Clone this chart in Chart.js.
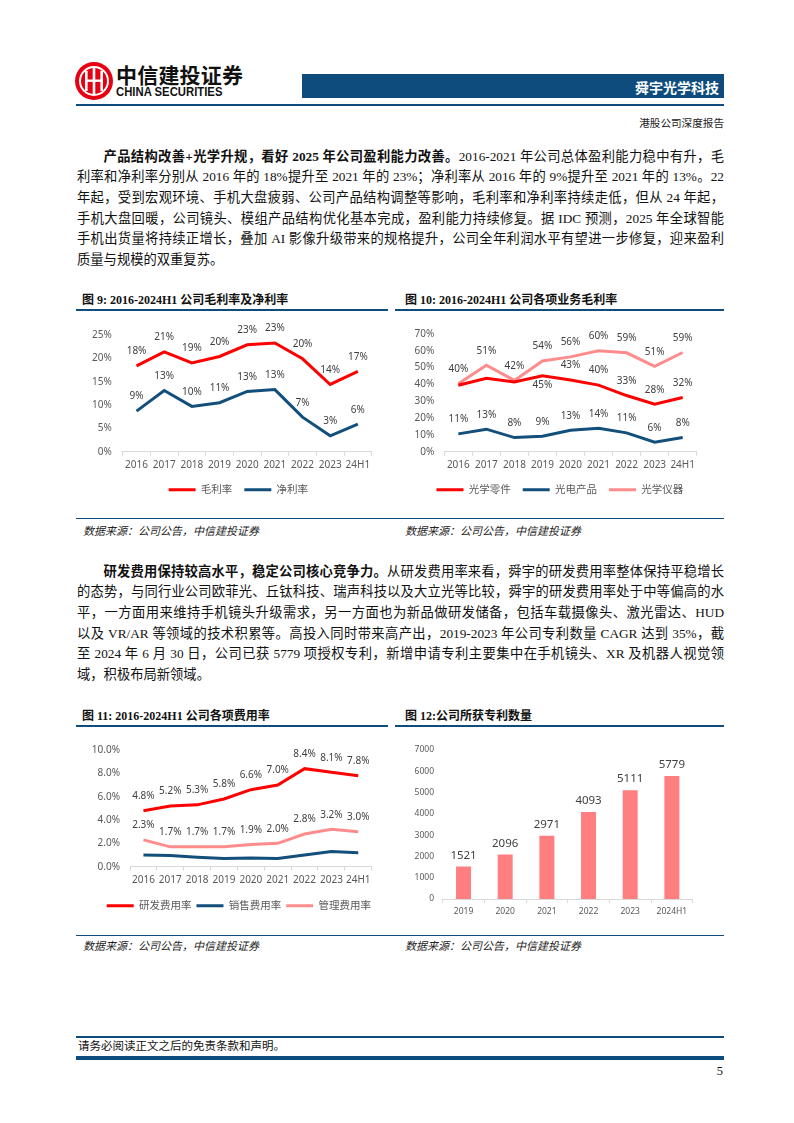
<!DOCTYPE html>
<html lang="zh-CN">
<head>
<meta charset="utf-8">
<script src="https://cdn.jsdelivr.net/npm/chart.js@4.4.1/dist/chart.umd.min.js"></script>
<style>
  body { margin: 0; background: #fff; }
  #page { position: relative; width: 794px; height: 1123px; overflow: hidden;
    font-family: "Liberation Serif", "Noto Sans CJK SC", serif; color: #111; }
  .abs { position: absolute; }
  .rule { position: absolute; background: #0d4c7c; }
  .para { position: absolute; left: 77px; width: 647px; font-size: 13.3px; line-height: 20.7px; }
  .ln { white-space: nowrap; text-align: justify; text-align-last: justify; }
  .ln.end { text-align-last: left; }
  .ln.first { text-indent: 2em; }
  .para b { font-weight: bold; }
  .title { font-size: 12px; line-height: 16px; font-weight: bold; white-space: nowrap; }
  .source { font-size: 11px; line-height: 16px; font-style: italic; white-space: nowrap; color: #222; }
  canvas { position: absolute; }
</style>
</head>
<body>
<div id="page">
  <!-- header -->
  <svg class="abs" style="left:72px; top:60px;" width="44" height="44" viewBox="0 0 44 44">
    <circle cx="22" cy="21" r="19" fill="#e60012"/>
    <circle cx="22" cy="21" r="14" fill="none" stroke="#fff" stroke-width="2"/>
    <rect x="13" y="11" width="2.6" height="20" fill="#fff"/>
    <rect x="20.7" y="8" width="2.6" height="26" fill="#fff"/>
    <rect x="28.4" y="11" width="2.6" height="20" fill="#fff"/>
    <rect x="13" y="19.5" width="18" height="2.4" fill="#fff"/>
  </svg>
  <div class="abs" style="left:116px; top:61px; font: bold 21px 'Noto Sans CJK SC'; line-height:26px; color:#111; letter-spacing:0.2px;">中信建投证券</div>
  <div class="abs" style="left:116px; top:85px; font: bold 12.3px 'Liberation Sans', sans-serif; line-height:14px; color:#111; transform: scaleX(0.92); transform-origin: left;">CHINA SECURITIES</div>
  <div class="abs" style="left:302px; top:74px; width:422px; height:24px; background:#0d4c7c;"></div>
  <div class="abs" style="left:560px; top:78px; width:159px; text-align:right; font: bold 14px 'Noto Sans CJK SC'; line-height:18px; color:#fff;">舜宇光学科技</div>
  <div class="rule" style="left:76px; top:104px; width:648px; height:1.5px;"></div>
  <div class="abs" style="left:560px; top:116px; width:164px; text-align:right; font-size:10.6px; line-height:16px; color:#222;">港股公司深度报告</div>

  <!-- paragraph 1 -->
  <div class="para" style="top:146.6px;">
    <div class="ln first"><b>产品结构改善+光学升规，看好 2025 年公司盈利能力改善。</b>2016-2021 年公司总体盈利能力稳中有升，毛</div>
    <div class="ln">利率和净利率分别从 2016 年的 18%提升至 2021 年的 23%；净利率从 2016 年的 9%提升至 2021 年的 13%。22</div>
    <div class="ln">年起，受到宏观环境、手机大盘疲弱、公司产品结构调整等影响，毛利率和净利率持续走低，但从 24 年起，</div>
    <div class="ln">手机大盘回暖，公司镜头、模组产品结构优化基本完成，盈利能力持续修复。据 IDC 预测，2025 年全球智能</div>
    <div class="ln">手机出货量将持续正增长，叠加 AI 影像升级带来的规格提升，公司全年利润水平有望进一步修复，迎来盈利</div>
    <div class="ln end">质量与规模的双重复苏。</div>
  </div>

  <!-- figure 9 / 10 titles -->
  <div class="abs title" style="left:82px; top:292px;">图 9: 2016-2024H1 公司毛利率及净利率</div>
  <div class="rule" style="left:76px; top:309px; width:312px; height:2px;"></div>
  <div class="abs title" style="left:405px; top:292px;">图 10: 2016-2024H1 公司各项业务毛利率</div>
  <div class="rule" style="left:395px; top:309px; width:329px; height:2px;"></div>

  <canvas id="chart9" width="310" height="187" style="left:76px; top:318px;"></canvas>
  <canvas id="chart10" width="330" height="187" style="left:395px; top:318px;"></canvas>

  <div class="rule" style="left:76px; top:518px; width:648px; height:1px;"></div>
  <div class="abs source" style="left:83px; top:523px;">数据来源：公司公告，中信建投证券</div>
  <div class="abs source" style="left:405px; top:523px;">数据来源：公司公告，中信建投证券</div>

  <!-- paragraph 2 -->
  <div class="para" style="top:561.6px;">
    <div class="ln first"><b>研发费用保持较高水平，稳定公司核心竞争力。</b>从研发费用率来看，舜宇的研发费用率整体保持平稳增长</div>
    <div class="ln">的态势，与同行业公司欧菲光、丘钛科技、瑞声科技以及大立光等比较，舜宇的研发费用率处于中等偏高的水</div>
    <div class="ln">平，一方面用来维持手机镜头升级需求，另一方面也为新品做研发储备，包括车载摄像头、激光雷达、HUD</div>
    <div class="ln">以及 VR/AR 等领域的技术积累等。高投入同时带来高产出，2019-2023 年公司专利数量 CAGR 达到 35%，截</div>
    <div class="ln">至 2024 年 6 月 30 日，公司已获 5779 项授权专利，新增申请专利主要集中在手机镜头、XR 及机器人视觉领</div>
    <div class="ln end">域，积极布局新领域。</div>
  </div>

  <!-- figure 11 / 12 titles -->
  <div class="abs title" style="left:82px; top:708px;">图 11: 2016-2024H1 公司各项费用率</div>
  <div class="rule" style="left:76px; top:725px; width:312px; height:2px;"></div>
  <div class="abs title" style="left:405px; top:708px;">图 12:公司所获专利数量</div>
  <div class="rule" style="left:395px; top:725px; width:329px; height:2px;"></div>

  <canvas id="chart11" width="310" height="187" style="left:76px; top:734px;"></canvas>
  <canvas id="chart12" width="330" height="182" style="left:395px; top:734px;"></canvas>

  <div class="rule" style="left:76px; top:935px; width:648px; height:1px;"></div>
  <div class="abs source" style="left:83px; top:938px;">数据来源：公司公告，中信建投证券</div>
  <div class="abs source" style="left:405px; top:938px;">数据来源：公司公告，中信建投证券</div>

  <!-- footer -->
  <div class="rule" style="left:76px; top:1036px; width:648px; height:1.5px;"></div>
  <div class="abs" style="left:78px; top:1038px; font-size:11.5px; line-height:16px; color:#111;">请务必阅读正文之后的免责条款和声明。</div>
  <div class="rule" style="left:76px; top:1056px; width:648px; height:3.5px;"></div>
  <div class="abs" style="left:700px; top:1063px; width:23px; text-align:right; font-size:12.5px; line-height:16px; color:#111;">5</div>
</div>

<script>
const years = ['2016', '2017', '2018', '2019', '2020', '2021', '2022', '2023', '24H1'];

// 图9 毛利率 / 净利率 (%)
const grossMargin = [18.4, 21.4, 19.0, 20.4, 22.9, 23.3, 19.9, 14.4, 17.2];
const netMargin = [8.7, 13.1, 9.7, 10.5, 12.9, 13.3, 7.4, 3.4, 5.9];

// 图10 各项业务毛利率 (%)
const opticalComponents = [39.5, 43.7, 41.4, 45.1, 42.7, 39.6, 33.4, 28.2, 32.2];
const optoelectronics = [10.6, 13.4, 8.4, 9.2, 12.8, 14.0, 11.2, 5.6, 8.4];
const opticalInstruments = [40.4, 51.4, 42.4, 54.0, 56.4, 60.0, 58.8, 50.8, 59.0];

// 图11 各项费用率 (%)
const rdRate = [4.8, 5.2, 5.3, 5.8, 6.6, 7.0, 8.4, 8.1, 7.8];
const sellingRate = [1.0, 0.95, 0.8, 0.7, 0.75, 0.7, 1.0, 1.3, 1.2];
const adminRate = [2.3, 1.7, 1.7, 1.7, 1.9, 2.0, 2.8, 3.2, 3.0];

// 图12 专利数量
const patentYears = ['2019', '2020', '2021', '2022', '2023', '2024H1'];
const patentCounts = [1521, 2096, 2971, 4093, 5111, 5779];

// where each value label sits: 'a' above the point, 'b' below, '' hidden
const allAbove = ['a', 'a', 'a', 'a', 'a', 'a', 'a', 'a', 'a'];
const componentsLabelPos = ['', '', '', 'b', 'a', 'a', 'a', 'a', 'a'];
const noLabels = ['', '', '', '', '', '', '', '', ''];

const RED = '#ff0000';
const BLUE = '#124f7b';
const PINK = '#ff8c8c';
const BAR = '#ff7f80';
const TICK = '#595959';
const AXIS = '#d9d9d9';
const FONT = '"Noto Sans", "Noto Sans CJK SC", sans-serif';

Chart.defaults.font.family = FONT;
Chart.defaults.color = TICK;

// draws the numbers over the points / bars
const valueLabels = {
  id: 'valueLabels',
  afterDatasetsDraw(chart, args, opts) {
    const ctx = chart.ctx;
    chart.data.datasets.forEach((ds, i) => {
      const meta = chart.getDatasetMeta(i);
      meta.data.forEach((el, j) => {
        const pos = ds.labelPos ? ds.labelPos[j] : 'a';
        if (!pos) return;
        const text = ds.data[j].toFixed(opts.decimals) + opts.suffix;
        ctx.save();
        ctx.font = opts.size + 'px ' + FONT;
        ctx.fillStyle = '#404040';
        ctx.textAlign = 'center';
        ctx.textBaseline = 'middle';
        ctx.fillText(text, el.x, pos === 'b' ? el.y + opts.below : el.y - opts.above);
        ctx.restore();
      });
    });
  }
};

// the legend in the source is not centred on the canvas, nudge it sideways
const legendShift = {
  id: 'legendShift',
  afterLayout(chart, args, opts) {
    if (chart.legend && opts.dx) {
      chart.legend.left += opts.dx;
      chart.legend.right += opts.dx;
    }
  }
};
Chart.register(valueLabels, legendShift);

function lineSet(label, data, color, labelPos) {
  return {
    label: label,
    data: data,
    borderColor: color,
    backgroundColor: color,
    borderWidth: 3,
    pointRadius: 0,
    tension: 0,
    labelPos: labelPos,
  };
}

function lineOptions(cfg) {
  return {
    responsive: false,
    animation: false,
    devicePixelRatio: 1,
    layout: { padding: { top: 16, right: cfg.padRight, left: 0, bottom: 0 } },
    plugins: {
      tooltip: { enabled: false },
      legend: {
        position: 'bottom',
        labels: {
          usePointStyle: true,
          pointStyle: 'line',
          pointStyleWidth: 27,
          padding: cfg.legendPad,
          color: TICK,
          font: { size: cfg.legendSize },
        },
      },
      legendShift: { dx: cfg.legendDx },
      valueLabels: { decimals: cfg.decimals, suffix: '%', size: 10, above: 14.5, below: 9 },
    },
    scales: {
      x: {
        offset: true,
        grid: { display: true, drawOnChartArea: false, drawTicks: true, tickLength: 4, offset: true, color: AXIS },
        border: { display: true, color: AXIS },
        ticks: { color: TICK, font: { size: 10 }, padding: 3, maxRotation: 0, autoSkip: false },
        afterFit: (scale) => { scale.height = cfg.xHeight; },
      },
      y: {
        min: cfg.min,
        max: cfg.max,
        ticks: {
          stepSize: cfg.step,
          color: TICK,
          font: { size: 10 },
          padding: cfg.yPad,
          callback: (v) => v.toFixed(cfg.decimals) + '%',
        },
        grid: { display: false, drawTicks: false },
        border: { display: false },
        afterFit: (scale) => { scale.width = cfg.yWidth; },
      },
    },
  };
}

new Chart(document.getElementById('chart9'), {
  type: 'line',
  data: {
    labels: years,
    datasets: [
      lineSet('毛利率', grossMargin, RED, allAbove),
      lineSet('净利率', netMargin, BLUE, allAbove),
    ],
  },
  options: lineOptions({
    min: 0, max: 25, step: 5, decimals: 0,
    padRight: 14.3, yWidth: 46.7, yPad: 11, legendDx: 14.5,
    xHeight: 20.8, legendPad: 12, legendSize: 10.5,
  }),
});

new Chart(document.getElementById('chart10'), {
  type: 'line',
  data: {
    labels: years,
    datasets: [
      lineSet('光学零件', opticalComponents, RED, componentsLabelPos),
      lineSet('光电产品', optoelectronics, BLUE, allAbove),
      lineSet('光学仪器', opticalInstruments, PINK, allAbove),
    ],
  },
  options: lineOptions({
    min: 0, max: 70, step: 10, decimals: 0,
    padRight: 28.3, yWidth: 49.3, yPad: 10, legendDx: 14,
    xHeight: 20.8, legendPad: 12, legendSize: 10.5,
  }),
});

new Chart(document.getElementById('chart11'), {
  type: 'line',
  data: {
    labels: years,
    datasets: [
      lineSet('研发费用率', rdRate, RED, allAbove),
      lineSet('销售费用率', sellingRate, BLUE, noLabels),
      lineSet('管理费用率', adminRate, PINK, allAbove),
    ],
  },
  options: lineOptions({
    min: 0, max: 10, step: 2, decimals: 1,
    padRight: 14.3, yWidth: 54, yPad: 10, legendDx: 15,
    xHeight: 28.8, legendPad: 5, legendSize: 10.5,
  }),
});

new Chart(document.getElementById('chart12'), {
  type: 'bar',
  data: {
    labels: patentYears,
    datasets: [{
      label: '专利数量',
      data: patentCounts,
      backgroundColor: BAR,
      barPercentage: 0.36,
      categoryPercentage: 1,
    }],
  },
  options: {
    responsive: false,
    animation: false,
    devicePixelRatio: 1,
    layout: { padding: { top: 16, right: 32.3, left: 0, bottom: 0 } },
    plugins: {
      tooltip: { enabled: false },
      legend: { display: false },
      valueLabels: { decimals: 0, suffix: '', size: 11.5, above: 11, below: 0 },
    },
    scales: {
      x: {
        grid: { display: true, drawOnChartArea: false, drawTicks: true, tickLength: 4, color: AXIS },
        border: { display: true, color: AXIS },
        ticks: { color: TICK, font: { size: 8.5 }, padding: 3, maxRotation: 0, autoSkip: false },
        afterFit: (scale) => { scale.height = 17; },
      },
      y: {
        min: 0,
        max: 7000,
        ticks: { stepSize: 1000, color: TICK, font: { size: 8.5 }, padding: 8.7, callback: (v) => String(v) },
        grid: { display: false, drawTicks: false },
        border: { display: false },
        afterFit: (scale) => { scale.width = 47.7; },
      },
    },
  },
});
</script>
</body>
</html>
